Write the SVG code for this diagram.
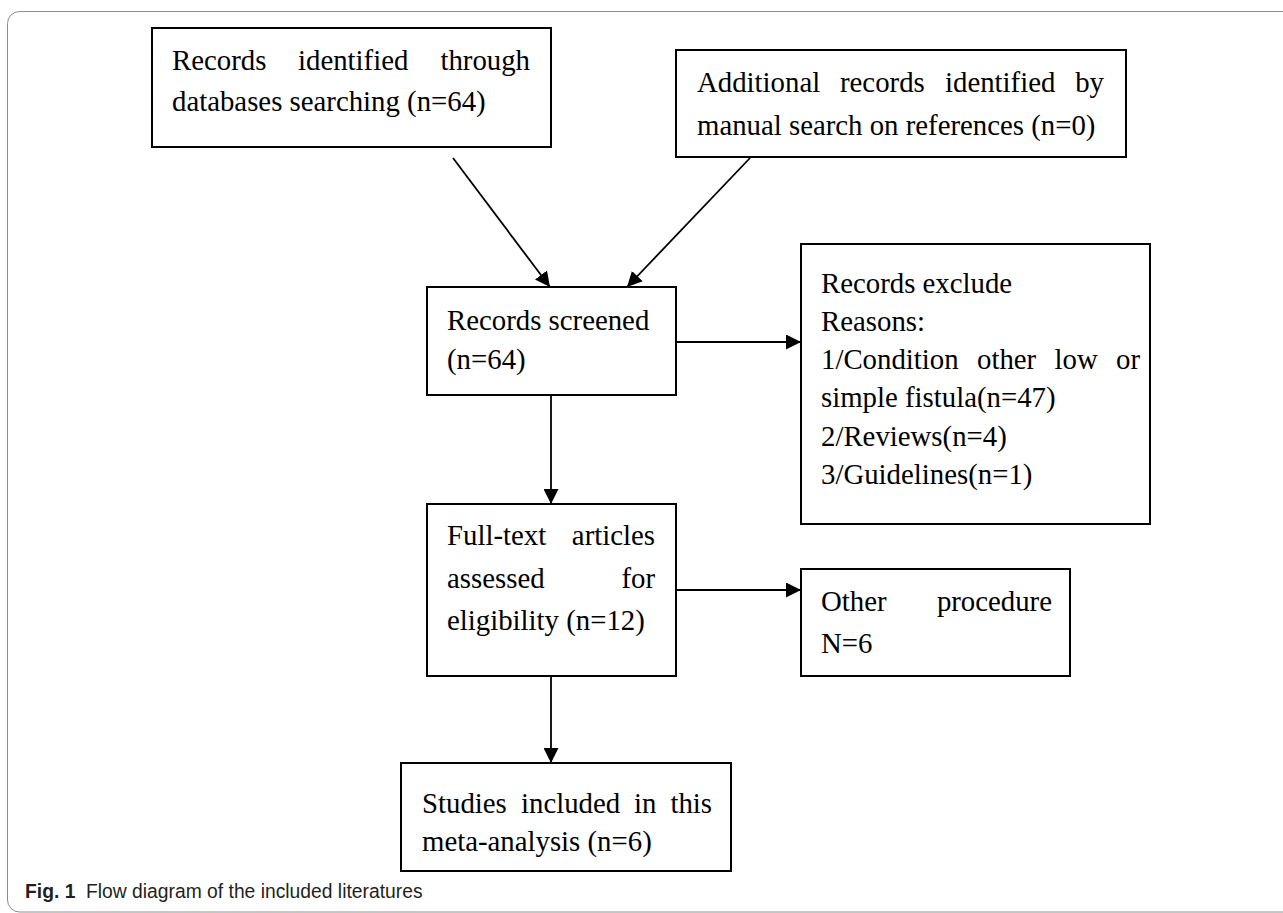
<svg xmlns="http://www.w3.org/2000/svg" width="1283" height="913" viewBox="0 0 1283 913">
<style>
.box{fill:#fff;stroke:#000;stroke-width:2}
.t{font-family:"Liberation Serif","Times New Roman",serif;font-size:28.8px;fill:#000}
.e{text-anchor:end}
.conn{stroke:#000;stroke-width:1.8;fill:none}
.cap{font-family:"Liberation Sans",Arial,sans-serif;font-size:19.3px;fill:#231f20}
</style>
<defs>
<marker id="ah" markerUnits="userSpaceOnUse" markerWidth="15" markerHeight="15" refX="14" refY="7" orient="auto" viewBox="0 0 14 14">
<path d="M0,0 L14,7 L0,14 z" fill="#000"/>
</marker>
</defs>
<rect width="1283" height="913" fill="#fff"/>
<rect x="7.5" y="11.5" width="1300" height="900.5" rx="12" ry="12" fill="none" stroke="#8c8c8c" stroke-width="1"/>

<g id="connectors">
<line class="conn" x1="453" y1="158" x2="550" y2="287" marker-end="url(#ah)"/>
<line class="conn" x1="750" y1="158" x2="627" y2="287" marker-end="url(#ah)"/>
<line class="conn" x1="676" y1="342" x2="801" y2="342" marker-end="url(#ah)"/>
<line class="conn" x1="551" y1="395" x2="551" y2="504" marker-end="url(#ah)"/>
<line class="conn" x1="676" y1="590" x2="801" y2="590" marker-end="url(#ah)"/>
<line class="conn" x1="551" y1="676" x2="551" y2="763" marker-end="url(#ah)"/>
</g>

<g id="n1">
<rect class="box" x="152" y="28" width="399" height="119"/>
<text class="t" x="172" y="70">Records</text>
<text class="t" x="298" y="70">identified</text>
<text class="t e" x="530" y="70">through</text>
<text class="t" x="172" y="111">databases searching (n=64)</text>
</g>

<g id="n2">
<rect class="box" x="676" y="50" width="450" height="107"/>
<text class="t" x="697" y="92">Additional</text>
<text class="t" x="840" y="92">records</text>
<text class="t" x="945" y="92">identified</text>
<text class="t e" x="1104" y="92">by</text>
<text class="t" x="697" y="135">manual search on references (n=0)</text>
</g>

<g id="n3">
<rect class="box" x="427" y="287" width="249" height="108"/>
<text class="t" x="447" y="330">Records screened</text>
<text class="t" x="447" y="369">(n=64)</text>
</g>

<g id="n4">
<rect class="box" x="801" y="244" width="349" height="280"/>
<text class="t" x="821" y="293">Records exclude</text>
<text class="t" x="821" y="331">Reasons:</text>
<text class="t" x="821" y="369">1/Condition</text>
<text class="t" x="977" y="369">other</text>
<text class="t" x="1054.5" y="369">low</text>
<text class="t e" x="1140" y="369">or</text>
<text class="t" x="821" y="407">simple fistula(n=47)</text>
<text class="t" x="821" y="446">2/Reviews(n=4)</text>
<text class="t" x="821" y="484">3/Guidelines(n=1)</text>
</g>

<g id="n5">
<rect class="box" x="427" y="504" width="249" height="172"/>
<text class="t" x="447" y="545">Full-text</text>
<text class="t e" x="655" y="545">articles</text>
<text class="t" x="447" y="588">assessed</text>
<text class="t e" x="655" y="588">for</text>
<text class="t" x="447" y="630">eligibility (n=12)</text>
</g>

<g id="n6">
<rect class="box" x="801" y="569" width="269" height="107"/>
<text class="t" x="821" y="611">Other</text>
<text class="t e" x="1052" y="611">procedure</text>
<text class="t" x="821" y="653">N=6</text>
</g>

<g id="n7">
<rect class="box" x="401" y="763" width="330" height="108"/>
<text class="t" x="422" y="813">Studies</text>
<text class="t" x="521" y="813">included</text>
<text class="t" x="634" y="813">in</text>
<text class="t e" x="712" y="813">this</text>
<text class="t" x="422" y="851">meta-analysis (n=6)</text>
</g>

<g id="caption">
<text class="cap" x="25" y="898" font-weight="bold">Fig. 1</text>
<text class="cap" x="86" y="898">Flow diagram of the included literatures</text>
</g>
</svg>
